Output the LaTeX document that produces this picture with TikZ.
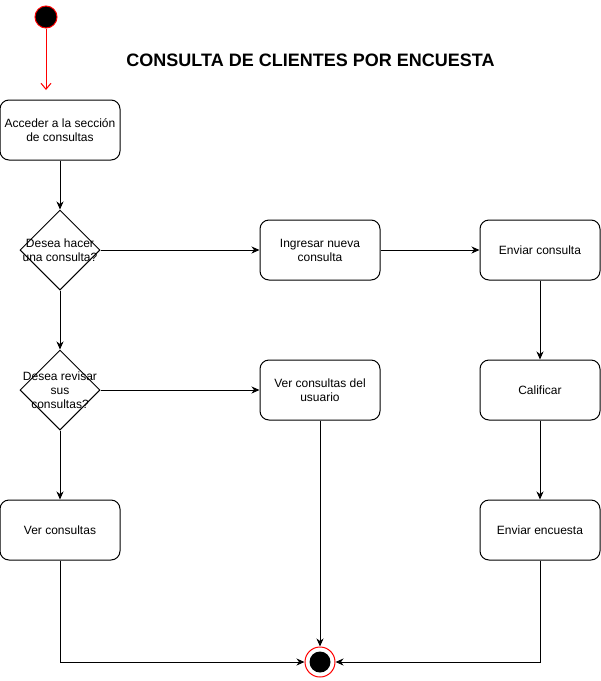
\documentclass[tikz,border=0pt]{standalone}
\usepackage{fontspec}
\setmainfont{Liberation Sans}
\usetikzlibrary{calc}
\usetikzlibrary{shapes.geometric}
\usetikzlibrary{arrows.meta}

\begin{document}
\begin{tikzpicture}[x=1pt, y=-1pt, line width=1pt]

    \tikzset{
        actionbox/.style={draw, rounded corners=9pt, minimum width=120pt, minimum height=60pt, align=center, font=\fontsize{12}{14}\selectfont, inner sep=0pt},
        decision/.style={draw, diamond, minimum width=80pt, minimum height=80pt, inner sep=0pt},
        decisiontext/.style={align=center, font=\fontsize{12}{14}\selectfont},
        flow/.style={-{Stealth[length=8pt, width=7pt, inset=2.5pt]}},
        startflow/.style={red, -{Straight Barb[length=6pt, width=10pt]}}
    }

    \useasboundingbox (0, 0) rectangle (601, 681);

    \node [draw=red, fill=black, circle, minimum size=22pt, inner sep=0pt] (Start) at (46, 17) {};
        \coordinate (StartEnd) at ($(Start) + (0, 73)$);
    \node [font=\bfseries\fontsize{18}{21}\selectfont] (Title) at (310.5, 60) {CONSULTA DE CLIENTES POR ENCUESTA};

    \node [actionbox] (Acceder) at (60, 130) {Acceder a la sección\\de consultas};
    \node [decision] (D1) at ($(Acceder) + (0, 120)$) {};
        \node [decisiontext] (D1t) at (D1) {Desea hacer\\una consulta?};
    \node [decision] (D2) at ($(D1) + (0, 140)$) {};
        \node [decisiontext] (D2t) at (D2) {Desea revisar\\sus\\consultas?};
    \node [actionbox] (VerConsultas) at ($(D2) + (0, 140)$) {Ver consultas};

    \node [actionbox] (Ingresar) at (320, 250) {Ingresar nueva\\consulta};
    \node [actionbox] (VerUsuario) at ($(Ingresar) + (0, 140)$) {Ver consultas del\\usuario};

    \node [actionbox] (Enviar) at (540, 250) {Enviar consulta};
    \node [actionbox] (Calificar) at ($(Enviar) + (0, 140)$) {Calificar};
    \node [actionbox] (Encuesta) at ($(Calificar) + (0, 140)$) {Enviar encuesta};

    \node [draw=red, fill=white, circle, minimum size=30pt, inner sep=0pt] (End) at (320, 662) {};
        \node [fill=black, circle, minimum size=21pt, inner sep=0pt] (EndDot) at (End) {};

    \draw [startflow] (Start) -- (StartEnd);
    \draw [flow] (Acceder) -- (D1);
    \draw [flow] (D1) -- (Ingresar);
    \draw [flow] (Ingresar) -- (Enviar);
    \draw [flow] (Enviar) -- (Calificar);
    \draw [flow] (Calificar) -- (Encuesta);
    \draw [flow] (D1) -- (D2);
    \draw [flow] (D2) -- (VerUsuario);
    \draw [flow] (D2) -- (VerConsultas);
    \draw [flow] (VerConsultas) |- (End);
    \draw [flow] (VerUsuario) -- (End);
    \draw [flow] (Encuesta) |- (End);

\end{tikzpicture}
\end{document}
